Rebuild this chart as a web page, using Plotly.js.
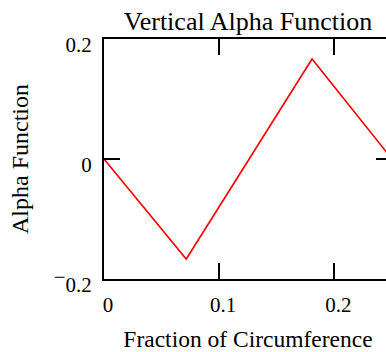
<!DOCTYPE html>
<html>
<head>
<meta charset="utf-8">
<script src="https://cdn.plot.ly/plotly-3.0.1.min.js"></script>
<style>
  html, body { margin: 0; padding: 0; overflow: hidden; background: #fff; }
  #plotArea { width: 394px; height: 352px; }
</style>
</head>
<body>
<div id="plotArea"></div>
<script>
// values
var fraction = [0, 0.0714, 0.1806, 0.25];
var alpha = [0, -0.1667, 0.1667, 0.0];

var xTicks = [0, 0.1, 0.2];
var xTickText = ["0", "0.1", "0.2"];
var yTicks = [-0.2, 0, 0.2];
var yTickText = ["<sup><span style=\"font-size:21px\">\u2212</span></sup>0.2", "0", "0.2"];

var serif = "Liberation Serif, Times New Roman, serif";

var alphaTrace = {
    x: fraction,
    y: alpha,
    mode: "lines",
    type: "scatter",
    line: {color: "#ff0000", width: 1.6},
    hoverinfo: "skip"
};

var axisStyle = {
    showline: true,
    linecolor: "#000",
    linewidth: 2,
    mirror: "ticks",
    ticks: "inside",
    ticklen: 16,
    tickwidth: 2,
    tickcolor: "#000",
    showgrid: false,
    zeroline: false,
    fixedrange: true,
    tickfont: {family: serif, size: 21, color: "#000"}
};

var layout = {
    width: 394,
    height: 352,
    margin: {l: 104, r: 2, t: 39, b: 73, pad: 0},
    paper_bgcolor: "#fff",
    plot_bgcolor: "#fff",
    showlegend: false,
    font: {family: serif, color: "#000"},
    title: {
        text: "Vertical Alpha Function",
        font: {family: serif, size: 26, color: "#000"},
        xref: "paper", x: 0.5,
        yref: "container", y: 0.94, yanchor: "middle"
    },
    xaxis: Object.assign({}, axisStyle, {
        range: [0, 0.25],
        tickvals: xTicks,
        ticktext: xTickText,
        ticklabelshift: 4,
        ticklabelstandoff: 6,
        title: {text: "Fraction of Circumference", font: {family: serif, size: 23.5, color: "#000"}, standoff: 14}
    }),
    yaxis: Object.assign({}, axisStyle, {
        range: [-0.2, 0.2],
        tickvals: yTicks,
        ticktext: yTickText,
        ticklabelshift: 6,
        ticklabelstandoff: 6,
        title: {text: "Alpha Function", font: {family: serif, size: 24, color: "#000"}, standoff: 18}
    })
};

Plotly.newPlot("plotArea", [alphaTrace], layout, {displayModeBar: false, staticPlot: true});
</script>
</body>
</html>
